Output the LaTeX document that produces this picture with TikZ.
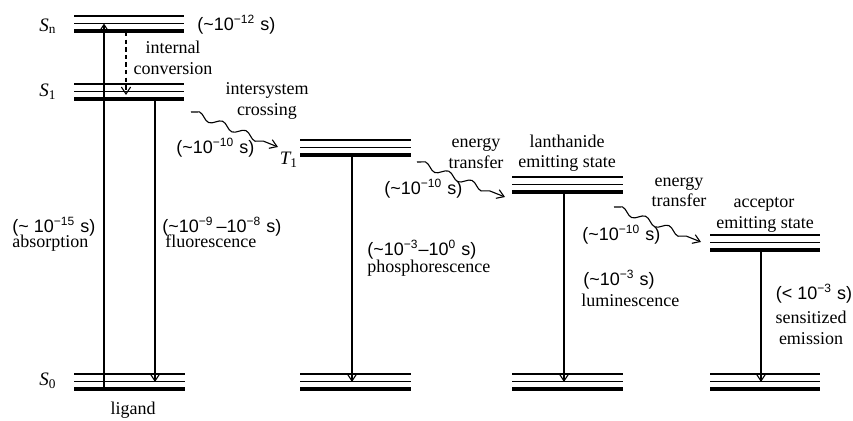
\documentclass[tikz,border=0pt]{standalone}
\usepackage{fontspec}
\setmainfont{Liberation Serif}
\newfontfamily\sansf{Liberation Sans}
\usetikzlibrary{arrows.meta,decorations.pathmorphing}
\newcommand\energylevel[3]{% x1, x2, y of the thick (bottom) line
  \draw[thinlvl] (#1,#3-15) -- (#2,#3-15);
  \draw[thinlvl] (#1,#3-7.5) -- (#2,#3-7.5);
  \draw[thicklvl] (#1,#3) -- (#2,#3);
}
\begin{document}
\begin{tikzpicture}[x=0.5pt,y=-0.5pt,
  thinlvl/.style={line width=0.6pt},
  thicklvl/.style={line width=1.6pt},
  trans/.style={line width=0.55pt,-{Straight Barb[length=3.5pt,width=4.6pt]}},
  wavy/.style={trans, decorate, decoration={snake,amplitude=1.6pt,segment length=12.5pt,post length=3pt}},
  lbl/.style={inner sep=0pt,font=\fontsize{9}{11}\selectfont},
  tm/.style={inner sep=0pt,font=\fontsize{9}{11}\sansf},
  stlbl/.style={inner sep=0pt,font=\fontsize{9.5}{11}\selectfont},
]
\useasboundingbox (0,0) rectangle (853,421);

% energy levels
\energylevel{74}{184}{31}    % S_n
\energylevel{74}{184}{99}    % S_1
\energylevel{74}{185}{389}   % S_0 ligand
\energylevel{300}{411}{155}  % T_1
\energylevel{300}{411}{389}
\energylevel{512}{623}{192}  % lanthanide
\energylevel{512}{623}{389}
\energylevel{710}{820}{250}  % acceptor
\energylevel{710}{820}{389}

% state labels
\node[stlbl,anchor=base] (Sn) at (48,32) {\itshape S\textsubscript{\upshape n}};
\node[stlbl,anchor=base] (S1) at (48,97) {\itshape S\textsubscript{\upshape 1}};
\node[stlbl,anchor=base] (S0) at (48,386) {\itshape S\textsubscript{\upshape 0}};
\node[stlbl,anchor=base] (T1) at (289,165) {\itshape T\textsubscript{\upshape 1}};

% transition end points
\coordinate (absA) at (104,389);
\coordinate (absB) at (104,23.5);
\coordinate (icA) at (126,32);
\coordinate (icB) at (126,95);
\coordinate (flA) at (155,99);
\coordinate (flB) at (155,382);
\coordinate (phA) at (352,155);
\coordinate (phB) at (352,382);
\coordinate (luA) at (564,192);
\coordinate (luB) at (564,382);
\coordinate (seA) at (761,250);
\coordinate (seB) at (761,382);
\coordinate (iscA) at (191,112);
\coordinate (iscB) at (278,147);
\coordinate (etA) at (417,162);
\coordinate (etB) at (505,197);
\coordinate (etC) at (614,207);
\coordinate (etD) at (701,242);

% vertical transitions
\draw[trans] (absA) -- (absB);
\draw[trans,dash pattern=on 2.2pt off 1.6pt] (icA) -- (icB);
\draw[trans] (flA) -- (flB);
\draw[trans] (phA) -- (phB);
\draw[trans] (luA) -- (luB);
\draw[trans] (seA) -- (seB);

% wavy transitions
\draw[wavy] (iscA) -- (iscB);
\draw[wavy] (etA) -- (etB);
\draw[wavy] (etC) -- (etD);

% time labels
\node[tm,anchor=base west] (tSn) at (197,31) {(\textasciitilde10\textsuperscript{−12} s)};
\node[tm,anchor=base west] (tisc) at (176,154) {(\textasciitilde10\textsuperscript{−10} s)};
\node[tm,anchor=base west] (tet1) at (384,195) {(\textasciitilde10\textsuperscript{−10} s)};
\node[tm,anchor=base west] (tet2) at (582,241) {(\textasciitilde10\textsuperscript{−10} s)};
\node[tm,anchor=base west] (tabs) at (12,233) {(\textasciitilde\ 10\textsuperscript{−15} s)};
\node[tm,anchor=base west] (tfl) at (162,233) {(\textasciitilde10\textsuperscript{−9}\,–10\textsuperscript{−8} s)};
\node[tm,anchor=base west] (tph) at (367,256) {(\textasciitilde10\textsuperscript{−3}–10\textsuperscript{0} s)};
\node[tm,anchor=base west] (tlu) at (583,286) {(\textasciitilde10\textsuperscript{−3} s)};
\node[tm,anchor=base] (tse) at (814,300) {(< 10\textsuperscript{−3} s)};

% process labels
\node[lbl,anchor=base] (ic1) at (173,54) {internal};
\node[lbl,anchor=base] (ic2) at (173,75) {conversion};
\node[lbl,anchor=base] (isc1) at (267,95) {intersystem};
\node[lbl,anchor=base] (isc2) at (267,116) {crossing};
\node[lbl,anchor=base] (et1a) at (476,148) {energy};
\node[lbl,anchor=base] (et1b) at (476,169) {transfer};
\node[lbl,anchor=base] (ln1) at (567,148) {lanthanide};
\node[lbl,anchor=base] (ln2) at (567,168) {emitting state};
\node[lbl,anchor=base] (et2a) at (679,187) {energy};
\node[lbl,anchor=base] (et2b) at (679,207) {transfer};
\node[lbl,anchor=base] (ac1) at (764,208) {acceptor};
\node[lbl,anchor=base] (ac2) at (765,229) {emitting state};
\node[lbl,anchor=base west] (abs) at (12,248) {absorption};
\node[lbl,anchor=base west] (fl) at (165,248) {fluorescence};
\node[lbl,anchor=base west] (ph) at (367,273) {phosphorescence};
\node[lbl,anchor=base west] (lu) at (581,307) {luminescence};
\node[lbl,anchor=base] (se1) at (811,324) {sensitized};
\node[lbl,anchor=base] (se2) at (811,345) {emission};
\node[lbl,anchor=base] (lig) at (133,415) {ligand};
\end{tikzpicture}
\end{document}
